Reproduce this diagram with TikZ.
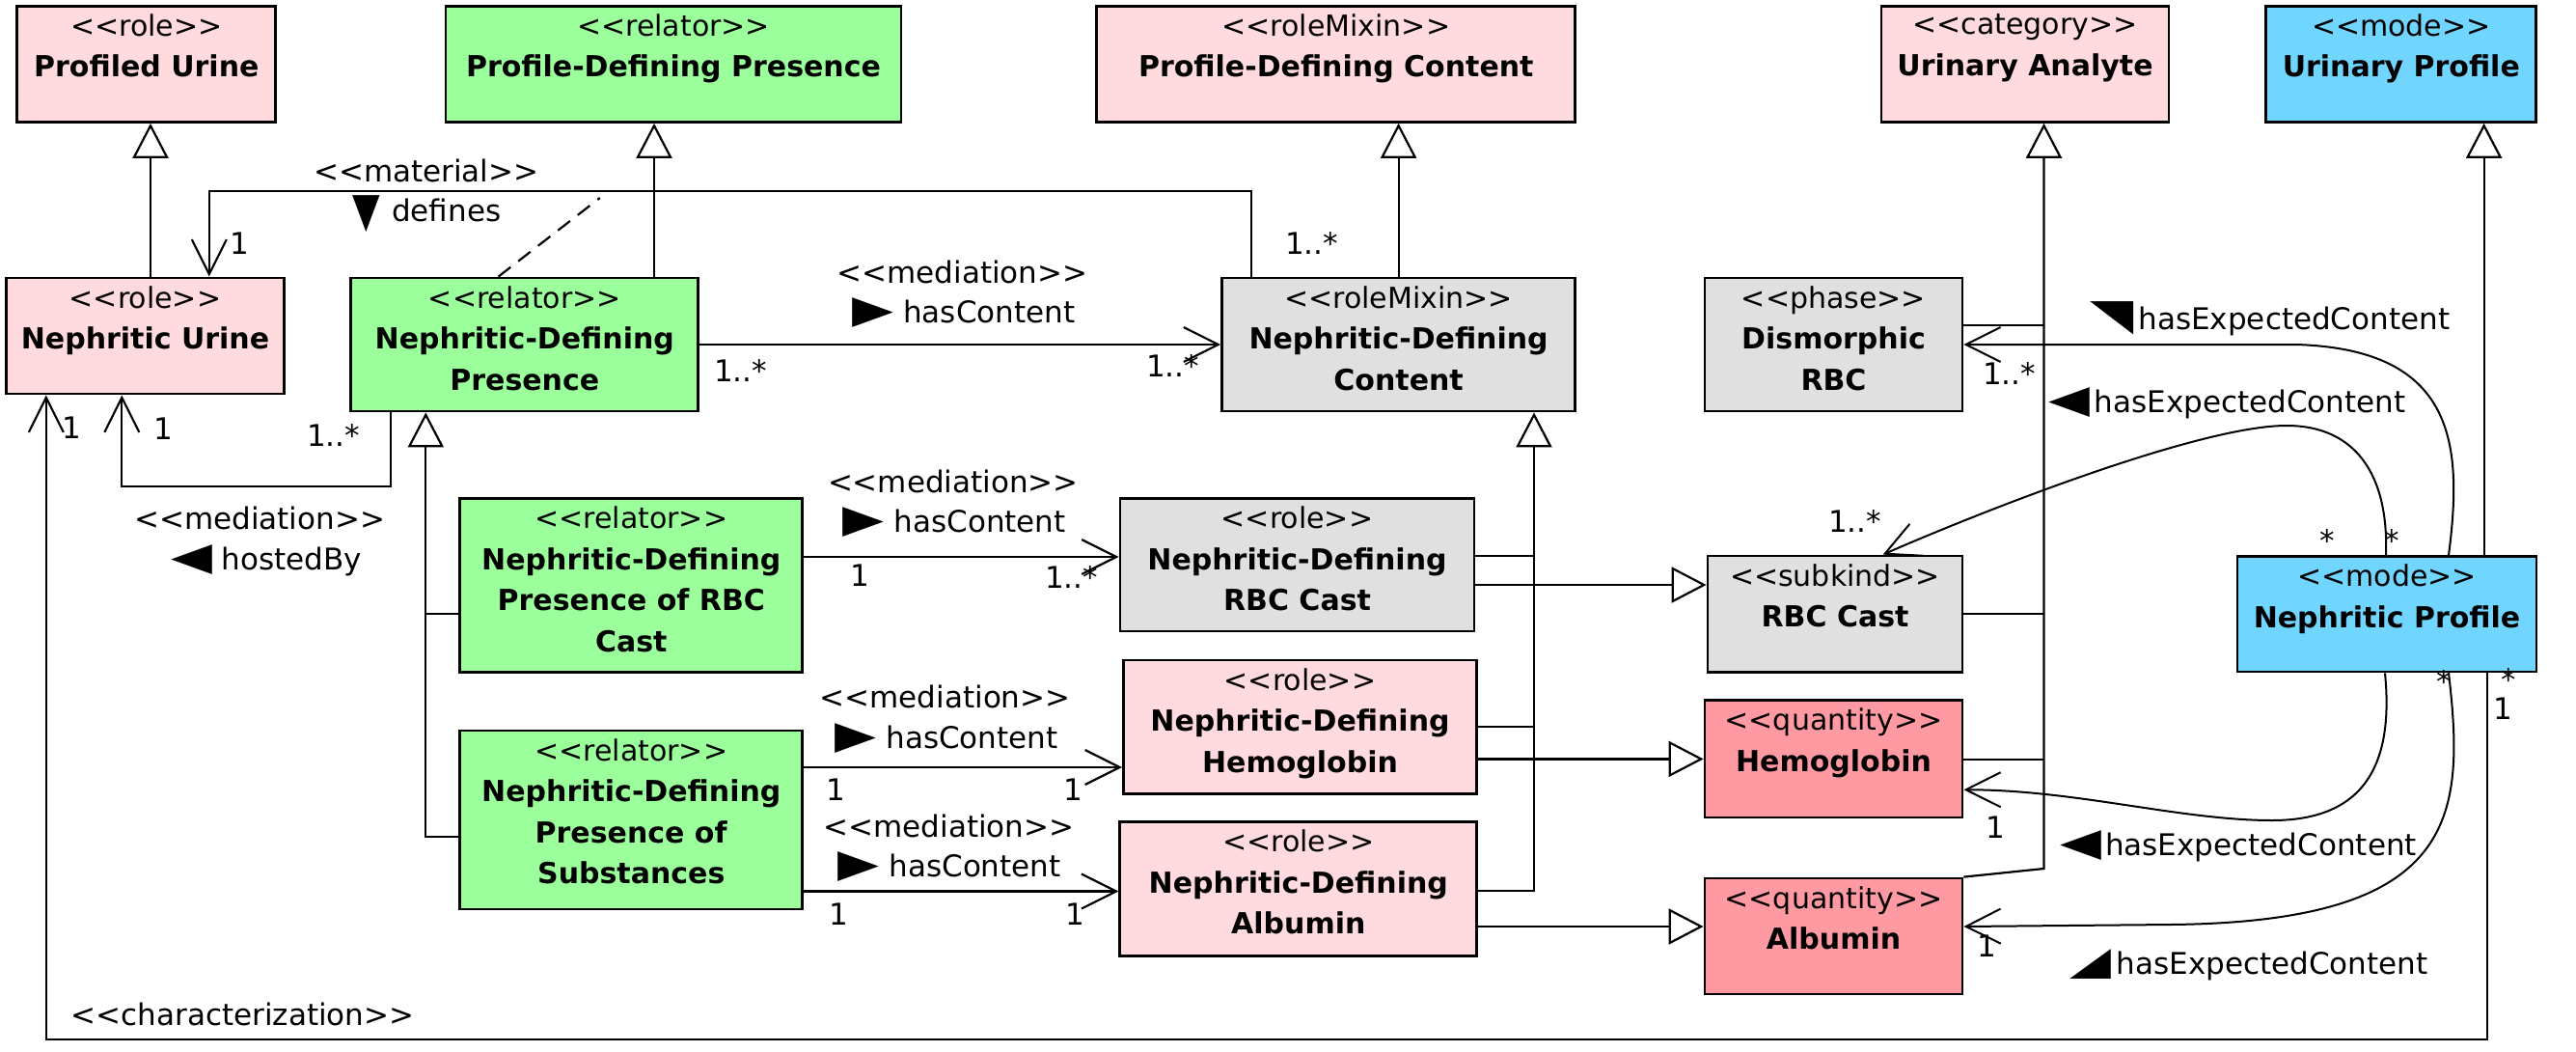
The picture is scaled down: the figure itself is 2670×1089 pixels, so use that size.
\documentclass[tikz,border=0pt]{standalone}
\usepackage{fontspec}
\usepackage{graphicx}
\setmainfont{DejaVu Sans}
\usetikzlibrary{arrows.meta}
\definecolor{pinkc}{RGB}{255,218,222}
\definecolor{greenc}{RGB}{155,255,155}
\definecolor{grayc}{RGB}{224,224,224}
\definecolor{bluec}{RGB}{112,214,255}
\definecolor{quantc}{RGB}{255,154,162}
\newcommand\stt[1]{<\kern0pt<#1>\kern0pt>}
\newcommand\tri[1]{\scalebox{1.8}[1.3]{#1}} % треугольник направления
\begin{document}
\begin{tikzpicture}[x=1pt,y=-1pt] % 1 unit = 1 px
\tikzstyle{mybox} = [draw, line width=2.8pt, inner sep=0pt] % класс
\tikzstyle{mytitle} = [anchor=north, align=center, inner xsep=0pt, inner ysep=9.5pt, font=\fontsize{30}{42.5}\selectfont] % текст класса
\tikzstyle{mylbl} = [anchor=base west, inner sep=0pt, font=\fontsize{31}{40}\selectfont] % подписи
\tikzstyle{myline} = [line width=2.2pt]
\tikzstyle{mygen} = [myline, -{Triangle[length=36pt,width=37pt,fill=white]}] % обобщение
\tikzstyle{myassoc} = [myline, -{Straight Barb[length=36pt,width=36pt]}] % ассоциация
\tikzstyle{mycurve} = [line width=2pt, -{Straight Barb[length=36pt,width=36pt]}]
\useasboundingbox (0,0) rectangle (2670,1089);

% top row
\node[mybox, fill=pinkc, minimum width=268pt, minimum height=120pt, label={[mytitle]north:{\stt{role}\\\textbf{Profiled Urine}}}] (pu) at (151.8,66.4) {};
\node[mybox, fill=greenc, minimum width=472pt, minimum height=120pt, label={[mytitle]north:{\stt{relator}\\\textbf{Profile-Defining Presence}}}] (pdp) at (698,66.4) {};
\node[mybox, fill=pinkc, minimum width=496pt, minimum height=120pt, label={[mytitle]north:{\stt{roleMixin}\\\textbf{Profile-Defining Content}}}] (pdc) at (1384.8,66.4) {};
\node[mybox, fill=pinkc, minimum width=298pt, minimum height=120pt, label={[mytitle]north:{\stt{category}\\\textbf{Urinary Analyte}}}] (ua) at (2099,66.4) {};
\node[mybox, fill=bluec, minimum width=280pt, minimum height=120pt, label={[mytitle]north:{\stt{mode}\\\textbf{Urinary Profile}}}] (up) at (2488.8,66.4) {};

% second row
\node[mybox, fill=pinkc, minimum width=288pt, minimum height=120pt, label={[mytitle]north:{\stt{role}\\\textbf{Nephritic Urine}}}] (nu) at (150.5,348) {};
\node[mybox, fill=greenc, minimum width=360pt, minimum height=138pt, label={[mytitle]north:{\stt{relator}\\\textbf{Nephritic-Defining}\\\textbf{Presence}}}] (ndp) at (543.8,357) {};
\node[mybox, fill=grayc, minimum width=366pt, minimum height=138pt, label={[mytitle]north:{\stt{roleMixin}\\\textbf{Nephritic-Defining}\\\textbf{Content}}}] (ndc) at (1449.6,357) {};
\node[mybox, fill=grayc, minimum width=267pt, minimum height=138pt, label={[mytitle]north:{\stt{phase}\\\textbf{Dismorphic}\\\textbf{RBC}}}] (drbc) at (1900.5,357) {};

% relators
\node[mybox, fill=greenc, minimum width=355pt, minimum height=180pt, label={[mytitle]north:{\stt{relator}\\\textbf{Nephritic-Defining}\\\textbf{Presence of RBC}\\\textbf{Cast}}}] (prc) at (654.3,606.5) {};
\node[mybox, fill=greenc, minimum width=355pt, minimum height=185pt, label={[mytitle]north:{\stt{relator}\\\textbf{Nephritic-Defining}\\\textbf{Presence of}\\\textbf{Substances}}}] (ps) at (654.3,849.5) {};

% roles and analytes
\node[mybox, fill=grayc, minimum width=367pt, minimum height=137.4pt, label={[mytitle]north:{\stt{role}\\\textbf{Nephritic-Defining}\\\textbf{RBC Cast}}}] (nrc) at (1344.5,585.3) {};
\node[mybox, fill=grayc, minimum width=264pt, minimum height=120.4pt, label={[mytitle]north:{\stt{subkind}\\\textbf{RBC Cast}}}] (rbc) at (1902,636.2) {};
\node[mybox, fill=bluec, minimum width=310pt, minimum height=119.5pt, label={[mytitle]north:{\stt{mode}\\\textbf{Nephritic Profile}}}] (np) at (2474,636.3) {};
\node[mybox, fill=pinkc, minimum width=366pt, minimum height=138.7pt, label={[mytitle]north:{\stt{role}\\\textbf{Nephritic-Defining}\\\textbf{Hemoglobin}}}] (nhb) at (1347.5,753.4) {};
\node[mybox, fill=quantc, minimum width=267pt, minimum height=121.2pt, label={[mytitle]north:{\stt{quantity}\\\textbf{Hemoglobin}}}] (hb) at (1900.5,786.4) {};
\node[mybox, fill=pinkc, minimum width=370pt, minimum height=139pt, label={[mytitle]north:{\stt{role}\\\textbf{Nephritic-Defining}\\\textbf{Albumin}}}] (nal) at (1345.8,920.9) {};
\node[mybox, fill=quantc, minimum width=267pt, minimum height=120pt, label={[mytitle]north:{\stt{quantity}\\\textbf{Albumin}}}] (al) at (1900.5,970) {};

% junctions
\coordinate (jmat) at (621.8,205);
\coordinate (jpres) at (441.3,636);
\coordinate (jrole1) at (1590,576);
\coordinate (jrole2) at (1590,752.6);
\coordinate (jua0) at (2118.5,900);
\coordinate (jua1) at (2118.5,336.7);
\coordinate (jua2) at (2118.5,636);
\coordinate (jua3) at (2118.5,786.7);

% generalizations
\draw[mygen] (nu.north -| 156,0) -- (pu.south -| 156,0);
\draw[mygen] (ndp.north -| 678,0) -- (pdp.south -| 678,0);
\draw[mygen] (ndc.north) -- (ndc.north |- pdc.south);
\draw[mygen] (np.north -| 2574.6,0) -- (up.south -| 2574.6,0);
\draw[mygen] (ps.west |- 0,867) -| (ndp.south -| jpres);
\draw[myline] (prc.west |- jpres) -- (jpres);
\draw[mygen] (nal.east |- 0,922.8) -| (ndc.south -| jrole1);
\draw[myline] (nrc.east |- jrole1) -- (jrole1);
\draw[myline] (nhb.east |- jrole2) -- (jrole2);
\draw[mygen] (nrc.east |- 0,606) -- (rbc.west |- 0,606);
\draw[mygen] (nhb.east |- hb.west) -- (hb.west);
\draw[mygen] (nal.east |- 0,960) -- (al.west |- 0,960);
\draw[mygen] (al.north east) -- (jua0) -- (ua.south -| jua0);
\draw[myline] (drbc.east |- jua1) -- (jua1);
\draw[myline] (rbc.east |- jua2) -- (jua2);
\draw[myline] (hb.east |- jua3) -- (jua3);

% material
\draw[myassoc] (ndc.north -| 1296.6,0) |- (216.8,198.3) -- (nu.north -| 216.8,0);
\draw[myline, dash pattern=on 16pt off 10pt] (ndp.north -| 516.6,0) -- (jmat);
\node[mylbl] (l1) at (325,188) {\stt{material}};
\node[mylbl] (l2) at (365.4,229.6) {\raisebox{-5pt}{\scalebox{1.2}[1.6]{▼}}\hspace{12pt}defines};
\node[mylbl] (m1) at (238,263.4) {1};
\node[mylbl] (m2) at (1332,263) {1..*};

% mediations
\draw[myassoc] (ndp.east) -- (ndc.west);
\node[mylbl] (l3) at (867.3,293.4) {\stt{mediation}};
\node[mylbl] (l4) at (883.3,334.8) {\tri{▶} hasContent};
\node[mylbl] (m3) at (740,395) {1..*};
\node[mylbl] (m4) at (1188,390) {1..*};

\draw[myassoc] (ndp.south -| 405,0) |- (126.3,503.8) -- (nu.south -| 126.3,0);
\node[mylbl] (l5) at (139,548.5) {\stt{mediation}};
\node[mylbl] (l6) at (177,590) {\tri{◀} hostedBy};
\node[mylbl] (m6) at (159.6,455) {1};
\node[mylbl] (m7) at (318,462) {1..*};

\draw[myassoc] (prc.east |- 0,577) -- (nrc.west |- 0,577);
\node[mylbl] (l7) at (857.8,510) {\stt{mediation}};
\node[mylbl] (l8) at (873.7,551.7) {\tri{▶} hasContent};
\node[mylbl] (m8) at (881,607) {1};
\node[mylbl] (m9) at (1083,609) {1..*};

\draw[myassoc] (ps.east |- 0,795) -- (nhb.west |- 0,795);
\node[mylbl] (l9) at (849.5,733.4) {\stt{mediation}};
\node[mylbl] (l10) at (865.4,775) {\tri{▶} hasContent};
\node[mylbl] (m10) at (856,829) {1};
\node[mylbl] (m11) at (1102,829) {1};

\draw[myassoc] (ps.east |- 0,923.5) -- (nal.west |- 0,923.5);
\node[mylbl] (l11) at (853.3,867.3) {\stt{mediation}};
\node[mylbl] (l12) at (868.6,908.8) {\tri{▶} hasContent};
\node[mylbl] (m12) at (859,958.5) {1};
\node[mylbl] (m13) at (1104,958.5) {1};

% characterization
\draw[myassoc] (np.south -| 2577.7,0) |- (47.8,1077.3) -- (nu.south -| 47.8,0);
\node[mylbl] (l13) at (73.7,1062) {\stt{characterization}};
\node[mylbl] (m5) at (64,454.7) {1};
\node[mylbl] (m19) at (2592,715) {*};
\node[mylbl] (m20) at (2584,745) {1};

% hasExpectedContent
\draw[mycurve] (np.north -| 2538,0) .. controls (2553,460) and (2545,362) .. (2380,357) -- (drbc.east |- 0,357);
\draw[mycurve] (np.north -| 2473,0) .. controls (2476,490) and (2440,441) .. (2370,441) .. controls (2280,441) and (2056,529) .. (rbc.north -| 1951.6,0);
\draw[mycurve] (np.south -| 2472,0) .. controls (2480,780) and (2460,850) .. (2355,850) .. controls (2260,850) and (2150,818) .. (hb.east |- 0,818.3);
\draw[mycurve] (np.south -| 2538,0) .. controls (2556,850) and (2545,955) .. (2250,958) -- (al.east |- 0,960);
\node[mylbl] (l14) at (2166,341) {\scalebox{1.9}[1.45]{◥}\hspace{5pt}hasExpectedContent};
\node[mylbl] (l15) at (2123.6,427.6) {\tri{◀}\hspace{4pt}hasExpectedContent};
\node[mylbl] (l16) at (2135,886.7) {\tri{◀}\hspace{4pt}hasExpectedContent};
\node[mylbl] (l17) at (2145.5,1009) {\scalebox{1.8}[1.3]{◢}\hspace{5pt}hasExpectedContent};
\node[mylbl] (m14) at (2054.8,398) {1..*};
\node[mylbl] (m15) at (1895,551) {1..*};
\node[mylbl] (m16) at (2404.7,571) {*};
\node[mylbl] (m17) at (2471,571) {*};
\node[mylbl] (m18) at (2525.6,717) {*};
\node[mylbl] (m21) at (2058,868) {1};
\node[mylbl] (m22) at (2049.7,991.7) {1};
\end{tikzpicture}
\end{document}
